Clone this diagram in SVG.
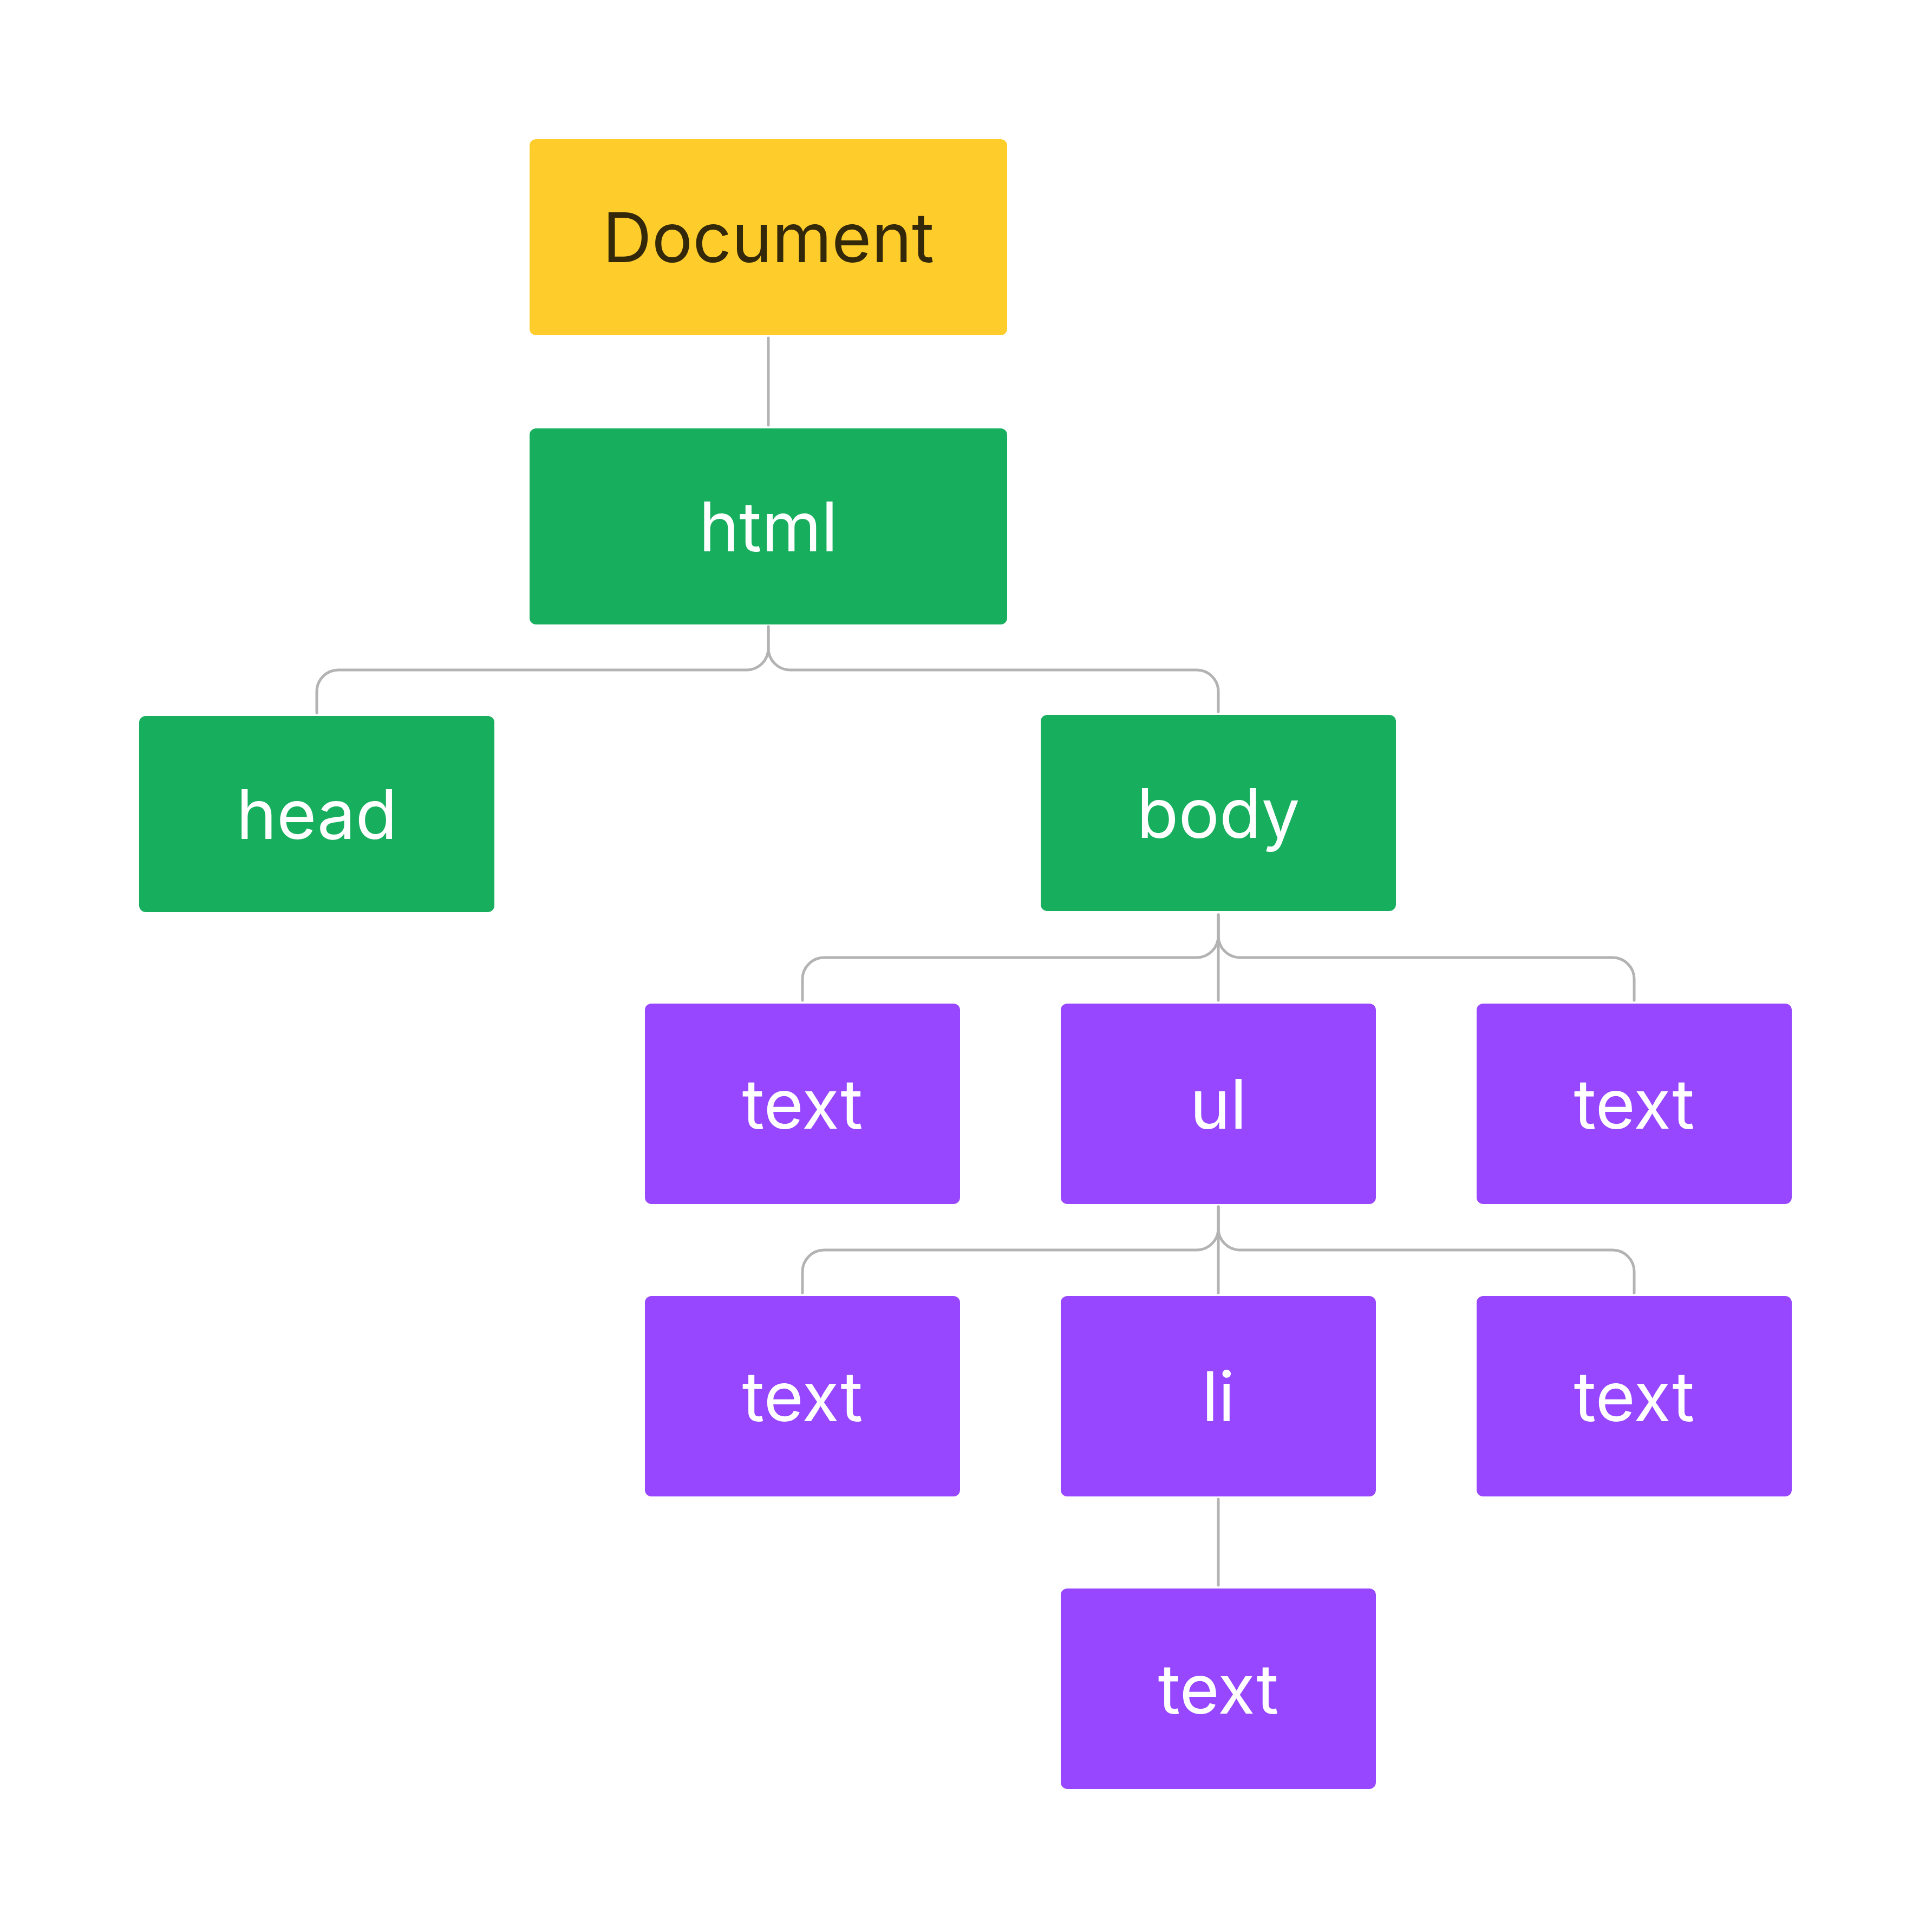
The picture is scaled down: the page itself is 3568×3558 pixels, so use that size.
<svg xmlns="http://www.w3.org/2000/svg" width="3568" height="3558" viewBox="0 0 3568 3558">
<style>
.n{stroke:none}
.y{fill:#FFCD2B}
.g{fill:#17AF5E}
.p{fill:#9747FF}
.t{font-family:Inter,"Noto Sans","Liberation Sans",sans-serif;font-size:126px;text-anchor:middle;fill:#FFFFFF}
.td{fill:#33290A}
.c{fill:none;stroke:#B3B3B3;stroke-width:5;stroke-linecap:round;stroke-linejoin:round}
</style>
<rect width="3568" height="3558" fill="#FFFFFF"/>
<g id="connectors">
<path class="c" d="M1419 624 V785"/>
<path class="c" d="M1419 1157 V1197 A40 40 0 0 1 1379 1237 H625 A40 40 0 0 0 585 1277 V1316"/>
<path class="c" d="M1419 1157 V1197 A40 40 0 0 0 1459 1237 H2210 A40 40 0 0 1 2250 1277 V1314"/>
<path class="c" d="M2250 1689 V1728 A40 40 0 0 1 2210 1768 H1522 A40 40 0 0 0 1482 1808 V1847"/>
<path class="c" d="M2250 1689 V1847"/>
<path class="c" d="M2250 1689 V1728 A40 40 0 0 0 2290 1768 H2978 A40 40 0 0 1 3018 1808 V1847"/>
<path class="c" d="M2250 2228 V2268 A40 40 0 0 1 2210 2308 H1522 A40 40 0 0 0 1482 2348 V2387"/>
<path class="c" d="M2250 2228 V2387"/>
<path class="c" d="M2250 2228 V2268 A40 40 0 0 0 2290 2308 H2978 A40 40 0 0 1 3018 2348 V2387"/>
<path class="c" d="M2250 2768 V2927"/>
</g>
<g id="node-document"><rect class="n y" x="978" y="257" width="882" height="362" rx="12"/><text class="t td" x="1419" y="484">Document</text></g>
<g id="node-html"><rect class="n g" x="978" y="791" width="882" height="362" rx="12"/><text class="t" x="1419" y="1018">html</text></g>
<g id="node-head"><rect class="n g" x="257" y="1322" width="656" height="362" rx="12"/><text class="t" x="585" y="1549">head</text></g>
<g id="node-body"><rect class="n g" x="1922" y="1320" width="656" height="362" rx="12"/><text class="t" x="2250" y="1547">body</text></g>
<g id="node-text1"><rect class="n p" x="1191" y="1853" width="582" height="370" rx="12"/><text class="t" x="1482" y="2084">text</text></g>
<g id="node-ul"><rect class="n p" x="1959" y="1853" width="582" height="370" rx="12"/><text class="t" x="2250" y="2084">ul</text></g>
<g id="node-text2"><rect class="n p" x="2727" y="1853" width="582" height="370" rx="12"/><text class="t" x="3018" y="2084">text</text></g>
<g id="node-text3"><rect class="n p" x="1191" y="2393" width="582" height="370" rx="12"/><text class="t" x="1482" y="2624">text</text></g>
<g id="node-li"><rect class="n p" x="1959" y="2393" width="582" height="370" rx="12"/><text class="t" x="2250" y="2624">li</text></g>
<g id="node-text4"><rect class="n p" x="2727" y="2393" width="582" height="370" rx="12"/><text class="t" x="3018" y="2624">text</text></g>
<g id="node-text5"><rect class="n p" x="1959" y="2933" width="582" height="370" rx="12"/><text class="t" x="2250" y="3164">text</text></g>
</svg>
